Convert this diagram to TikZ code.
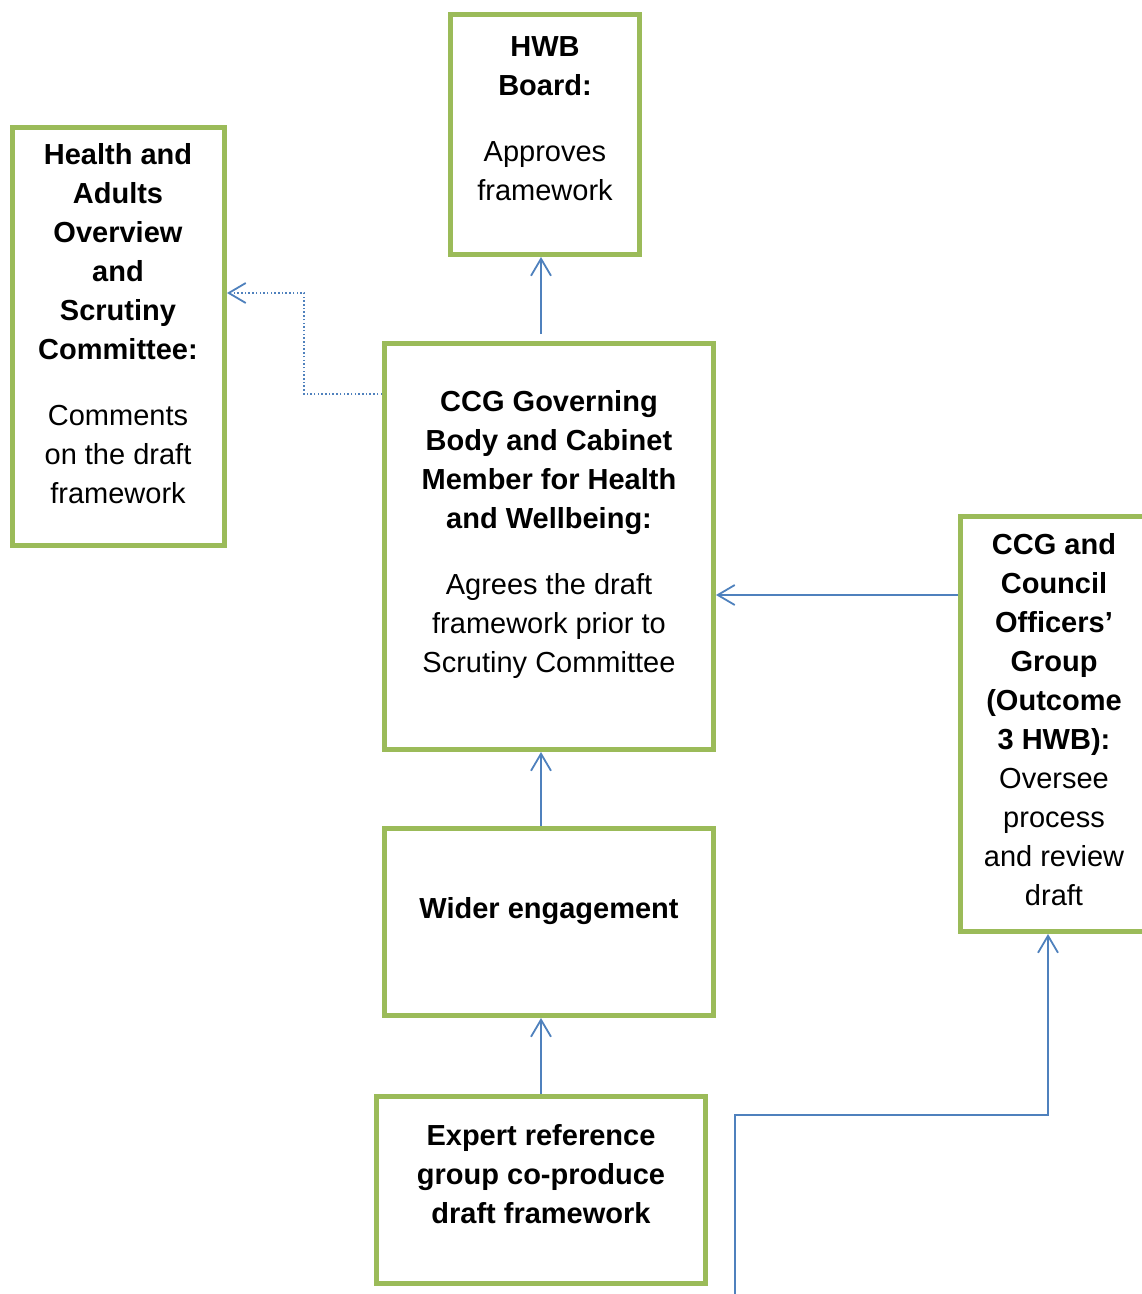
\documentclass[tikz,border=0pt]{standalone}
\usepackage{fontspec}
\setmainfont{Liberation Sans}
\usepackage{xcolor}
\usetikzlibrary{positioning, arrows.meta}
\definecolor{boxgreen}{HTML}{9BBB59}
\definecolor{linkblue}{HTML}{4F81BD}

\begin{document}
\begin{tikzpicture}[
    x=1pt, y=-1pt,
    box/.style={draw=boxgreen, line width=5pt, fill=white, inner sep=0pt},
    boxtext/.style={anchor=north, align=center, inner sep=0pt, font=\fontsize{29}{39}\selectfont},
    arrow/.style={-{Straight Barb[length=17pt, width=20pt, line width=1.8pt]}, linkblue, line width=1.8pt},
    dotarrow/.style={arrow, line width=1.5pt, dash pattern=on 1.5pt off 2.2pt}
  ]
    \clip (0,0) rectangle (1142,1294);
    \node[box, minimum width=189pt, minimum height=240pt] (hwb)    at (545,134.5)  {};
    \node[box, minimum width=212pt, minimum height=418pt] (hasc)   at (118.5,336.5) {};
    \node[box, minimum width=329pt, minimum height=406pt] (ccg)    at (549,546.5)  {};
    \node[box, minimum width=329pt, minimum height=187pt] (wider)  at (549,922)    {};
    \node[box, minimum width=329pt, minimum height=187pt] (expert) at (541,1190)   {};
    \node[box, minimum width=200pt, minimum height=415pt] (officers) at (1060.5,724) {};
    % box texts
    \node[boxtext] (hwbtext)    at (545,36)   {\textbf{HWB}\\\textbf{Board:}\\[27pt]Approves\\framework};
    \node[boxtext] (hasctext)   at (118,143)  {\textbf{Health and}\\\textbf{Adults}\\\textbf{Overview}\\\textbf{and}\\\textbf{Scrutiny}\\\textbf{Committee:}\\[27pt]Comments\\on the draft\\framework};
    \node[boxtext] (ccgtext)    at (549,390)  {\textbf{CCG Governing}\\\textbf{Body and Cabinet}\\\textbf{Member for Health}\\\textbf{and Wellbeing:}\\[27pt]Agrees the draft\\framework prior to\\Scrutiny Committee};
    \node[boxtext] (widertext)  at (549,897)  {\textbf{Wider engagement}};
    \node[boxtext] (experttext) at (541,1124) {\textbf{Expert reference}\\\textbf{group co-produce}\\\textbf{draft framework}};
    \node[boxtext] (officerstext) at (1054,533) {\textbf{CCG and}\\\textbf{Council}\\\textbf{Officers’}\\\textbf{Group}\\\textbf{(Outcome}\\\textbf{3 HWB):}\\Oversee\\process\\and review\\draft};
    % connectors
    \coordinate (dotbend) at (304,293);
    \coordinate (bend) at (1048,1115);
    \coordinate (feed) at (735,1300);
    \draw[arrow, shorten <=7pt] (ccg.north -| expert.north) -- (hwb.south -| expert.north);
    \draw[arrow] (wider.north -| expert.north) -- (ccg.south -| expert.north);
    \draw[arrow] (expert.north) -- (wider.south -| expert.north);
    \draw[arrow] (officers.west |- 0,595) -- (ccg.east |- 0,595);
    \draw[dotarrow] (ccg.west |- 0,394) -| (dotbend) -- (dotbend -| hasc.east);
    \draw[arrow] (feed) |- (bend) -- (bend |- officers.south);
\end{tikzpicture}
\end{document}
